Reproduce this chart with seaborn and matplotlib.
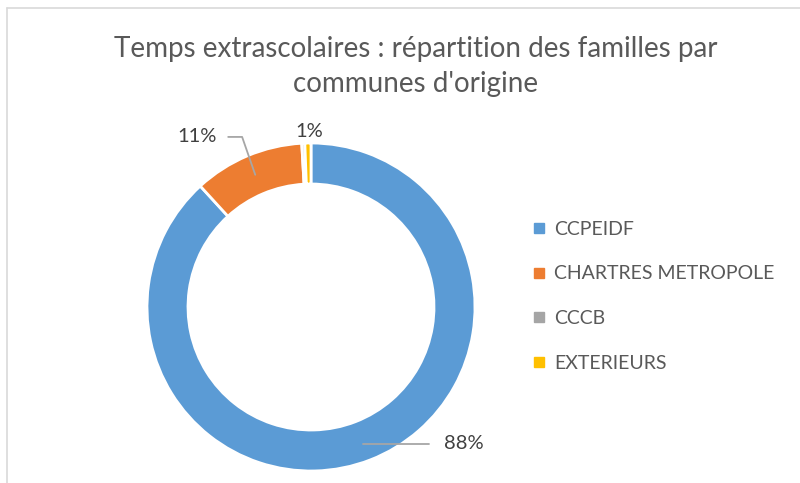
import seaborn as sns
import matplotlib
matplotlib.use("Agg")
import matplotlib.pyplot as plt
import numpy as np
from matplotlib.lines import Line2D

# data
communes = ["CCPEIDF", "CHARTRES METROPOLE", "CCCB", "EXTERIEURS"]
parts = [88.2, 10.9, 0.3, 0.6]
colours = ["#5B9BD5", "#ED7D31", "#A5A5A5", "#FFC000"]
title = "Temps extrascolaires : répartition des familles par\ncommunes d'origine"

sns.set_theme(style="white")
plt.rcParams['font.family'] = ['Lato', 'DejaVu Sans']

fig = plt.figure(figsize=(8, 4.83), dpi=100)
W, H = 800, 483
# pie centre (311, 307) px, radius 164 px
cx, cy, r = 311, 307, 164
ax = fig.add_axes([(cx - r) / W, (H - cy - r) / H, 2 * r / W, 2 * r / H])

wedges, _ = ax.pie(parts, colors=colours, startangle=90, counterclock=False,
                   radius=1, wedgeprops=dict(width=0.25, edgecolor="white", linewidth=2))
ax.set_xlim(-1, 1)
ax.set_ylim(-1, 1)
ax.set_aspect("equal")
ax.axis("off")

# data labels (Excel "best fit" placement)
label_pos = {0: (0.93, -0.835), 1: (-0.695, 1.037), 3: (-0.012, 1.073)}
leader_elbow = {1: (-0.42, 1.037)}
for i, w in enumerate(wedges):
    txt = f"{round(parts[i] / sum(parts) * 100):.0f}%"
    if txt == "0%":
        continue
    tx, ty = label_pos[i]
    ax.text(tx, ty, txt, ha="center", va="center", fontsize=14.5, color="#404040")
    if i == 3:
        continue
    mid = np.deg2rad((w.theta1 + w.theta2) / 2)
    px, py = 0.875 * np.cos(mid), 0.875 * np.sin(mid)
    if i in leader_elbow:
        ex, ey = leader_elbow[i]
        ax.plot([tx + 0.19, ex, px], [ty, ey, py], color="#A6A6A6", lw=1.3, clip_on=False)
    else:
        ax.plot([tx - 0.21, px], [ty, ty], color="#A6A6A6", lw=1.3, clip_on=False)

fig.suptitle(title, x=0.52, y=0.925, fontsize=20, color="#595959", linespacing=1.42)

handles = [Line2D([0], [0], marker="s", linestyle="", markersize=6.5,
                  markerfacecolor=c, markeredgecolor=c) for c in colours]
fig.legend(handles, communes, loc="upper left", bbox_to_anchor=(523 / W, 1 - 213 / H),
           frameon=False, fontsize=14, labelcolor="#595959", handlelength=0.8,
           handletextpad=0.4, labelspacing=1.42, borderaxespad=0)

# chart frame edges visible in the crop
fig.add_artist(Line2D([7 / W, 7 / W], [0, 1 - 8 / H], color="#D9D9D9", lw=1.2))
fig.add_artist(Line2D([7 / W, 1], [1 - 8 / H, 1 - 8 / H], color="#D9D9D9", lw=1.2))

fig.savefig("out.png", dpi=100)
